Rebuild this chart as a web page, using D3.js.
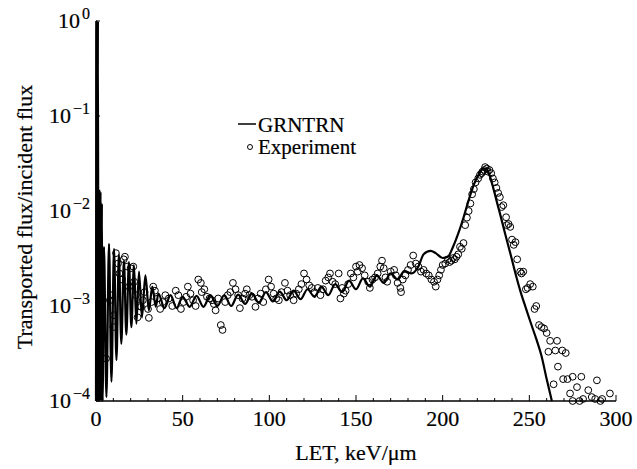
<!DOCTYPE html>
<html><head><meta charset="utf-8">
<script src="https://cdn.jsdelivr.net/npm/d3@7/dist/d3.min.js"></script>
<style>
html,body{margin:0;padding:0;background:#fff;}
svg{display:block;}
text{font-family:"Liberation Serif","Times New Roman",serif;fill:#000;stroke:#000;stroke-width:0.2;}
</style></head>
<body>
<script>
// ---- data ----
const xTicks = [0, 50, 100, 150, 200, 250, 300];
const yTicks = [1e0, 1e-1, 1e-2, 1e-3, 1e-4];
const yTickExp = ["0", "\u22121", "\u22122", "\u22123", "\u22124"];
const seriesNames = ["GRNTRN", "Experiment"];

// GRNTRN calculation: LET (keV/um) and flux ratio
const grnLET = [0, 0.4, 0.8, 1.1, 1.4, 1.8, 2.2, 2.6, 3.0, 3.4, 3.8, 4.6, 6.0, 7.5, 8.9, 10.4, 11.8, 13.2, 14.6, 16.1, 17.5, 19.0, 20.4, 21.9, 23.3, 24.8, 26.5, 28.5, 30.5, 32.5, 34.5,
  36, 39.5, 43, 46.5, 50, 54, 58, 62, 66, 70, 74, 78, 82, 86, 90, 94, 98, 102, 106, 110, 114, 118, 122, 126, 130, 134, 138, 142, 146, 150, 154, 158, 162, 166, 170, 174, 178, 182, 186, 189, 193, 196, 200, 203, 206, 209, 212, 215, 218, 221, 223.5, 225.5, 227, 229, 231, 233, 236, 239, 242, 245, 248, 251, 254, 257, 260, 263];
const grnFlux = [1e-4, 1.0, 1e-4, 1.0, 1e-4, 1.7e-2, 1e-4, 1.6e-2, 1e-4, 1.2e-2, 1e-4, 4.2e-3, 1.1e-4, 4.5e-3, 1.6e-4, 4.0e-3, 2.7e-4, 3.5e-3, 4.0e-4, 3.0e-3, 5.0e-4, 2.9e-3, 6.0e-4, 2.7e-3, 6.5e-4, 2.3e-3, 7.6e-4, 2.1e-3, 9.0e-4, 1.6e-3, 9.8e-4,
  1.35e-3, 0.95e-3, 1.3e-3, 0.95e-3, 1.25e-3, 0.98e-3, 1.28e-3, 0.98e-3, 1.3e-3, 1.0e-3, 1.3e-3, 1.0e-3, 1.32e-3, 1.05e-3, 1.35e-3, 1.08e-3, 1.4e-3, 1.12e-3, 1.42e-3, 1.15e-3, 1.45e-3, 1.18e-3, 1.5e-3, 1.25e-3, 1.6e-3, 1.3e-3, 1.7e-3, 1.4e-3, 1.85e-3, 1.5e-3, 1.95e-3, 1.6e-3, 2.1e-3, 1.75e-3, 2.2e-3, 1.9e-3, 2.35e-3, 2.2e-3, 2.6e-3, 3.5e-3, 3.8e-3, 3.6e-3, 3.2e-3, 3.3e-3, 4.2e-3, 5.8e-3, 8.5e-3, 1.3e-2, 1.9e-2, 2.45e-2, 2.8e-2, 2.75e-2, 2.4e-2, 1.8e-2, 1.3e-2, 9.5e-3, 5.8e-3, 3.6e-3, 2.2e-3, 1.4e-3, 9.5e-4, 6.5e-4, 4.5e-4, 3.0e-4, 1.7e-4, 1.0e-4];

// Experiment: LET (keV/um) and flux ratio
const expLET = [5.8, 8, 8.6, 10, 10.4, 11.5, 12.7, 13.5, 15, 16, 16.7, 18, 19, 20, 21.5, 22, 23, 24, 25, 26, 27, 28, 30, 30.5, 32, 33, 34, 35.5, 37, 38.5, 40, 42, 44, 46, 47.5, 49, 50.5, 52, 53, 54.5, 56, 57.5, 59, 60.5, 61, 62.5, 64, 65.5, 67, 68, 69, 70.5, 72, 73, 74.5, 76, 77.5, 79, 80.5, 82, 83, 84.5, 86, 87, 88.5, 90, 92, 93.5, 95, 96.5, 98, 99.6, 101, 102.5, 104, 105.5, 107, 109, 110.5, 112, 114, 115.5, 117, 118.5, 120, 121.5, 123, 124.5, 126, 128, 129.5, 131, 132.5, 134, 135, 136.5, 138, 140, 141, 142, 143, 144, 145.5, 147, 148.5, 150, 151, 152, 153.5, 155, 157, 158, 159.5, 161, 162.5, 164, 165, 166, 167, 168, 170, 172, 173, 174, 175.6, 176, 177, 178.5, 180, 181.5, 183, 184.5, 186, 187.5, 189, 190.5, 192, 193.5, 195, 196, 197, 198, 199, 200, 201.5, 203, 204, 205, 206, 207, 208, 209, 210, 211, 212, 213, 214, 215, 216, 217, 218, 219, 220.5, 221.5, 222.5, 223, 224, 224.5, 225.5, 226, 227, 228, 229, 230, 231, 232, 233, 234, 235, 236.6, 237, 238, 239, 240, 241, 242, 243, 244.7, 245.5, 246.5, 248, 249, 250.5, 252, 253, 254, 255.6, 257, 258.5, 260, 261, 262, 264, 265, 266, 266.5, 269, 269.5, 271, 272, 273.5, 275, 275, 277.5, 279, 280, 281, 284, 286, 288, 289, 291, 292, 296.5];
const expFlux = [2.8e-4, 1.15e-3, 1.3e-3, 6e-4, 8e-4, 3.6e-3, 2.8e-3, 2.2e-3, 1.9e-3, 3.1e-3, 3.3e-3, 2.6e-3, 1.6e-3, 2.5e-3, 2.6e-3, 1.8e-3, 1.3e-3, 7.6e-4, 1.0e-3, 9.8e-4, 1.15e-3, 1.4e-3, 9.3e-4, 7.5e-4, 1.1e-3, 1.6e-3, 1.45e-3, 1.2e-3, 9.3e-4, 1.1e-3, 1.3e-3, 1.2e-3, 1.0e-3, 1.45e-3, 1.3e-3, 9.3e-4, 1.1e-3, 1.25e-3, 1.6e-3, 1.35e-3, 1.15e-3, 1.0e-3, 1.9e-3, 1.75e-3, 1.4e-3, 1.5e-3, 1.25e-3, 1.2e-3, 1.15e-3, 1.05e-3, 9e-4, 1.2e-3, 6.3e-4, 5.6e-4, 1.1e-3, 1.3e-3, 1.4e-3, 1.75e-3, 1.5e-3, 1.3e-3, 9.5e-4, 1.2e-3, 1.35e-3, 1.5e-3, 1.3e-3, 1.25e-3, 9.8e-4, 1.2e-3, 1.35e-3, 1.1e-3, 1.5e-3, 1.9e-3, 1.6e-3, 1.35e-3, 1.2e-3, 1.15e-3, 1.4e-3, 1.75e-3, 1.45e-3, 1.3e-3, 1.15e-3, 1.35e-3, 1.5e-3, 1.7e-3, 2.2e-3, 1.9e-3, 1.65e-3, 1.55e-3, 1.4e-3, 1.55e-3, 1.3e-3, 1.5e-3, 1.85e-3, 2.0e-3, 2.2e-3, 1.8e-3, 1.7e-3, 2.2e-3, 1.2e-3, 1.55e-3, 1.35e-3, 1.45e-3, 1.7e-3, 2.2e-3, 2.0e-3, 2.6e-3, 2.3e-3, 2.7e-3, 2.5e-3, 2.1e-3, 1.8e-3, 1.55e-3, 1.9e-3, 2.0e-3, 2.2e-3, 2.6e-3, 3.0e-3, 2.5e-3, 2.0e-3, 1.8e-3, 2.3e-3, 2.4e-3, 2.1e-3, 1.75e-3, 1.55e-3, 1.4e-3, 1.9e-3, 2.1e-3, 2.4e-3, 2.7e-3, 3.4e-3, 2.8e-3, 2.6e-3, 2.3e-3, 2.4e-3, 2.2e-3, 2.1e-3, 1.9e-3, 1.8e-3, 1.6e-3, 1.9e-3, 2.1e-3, 2.4e-3, 2.7e-3, 2.8e-3, 3.1e-3, 2.9e-3, 3.0e-3, 3.2e-3, 3.1e-3, 3.3e-3, 3.5e-3, 4.2e-3, 4.0e-3, 4.6e-3, 7.1e-3, 8.5e-3, 1.0e-2, 1.2e-2, 1.5e-2, 1.7e-2, 2.0e-2, 2.2e-2, 2.4e-2, 2.5e-2, 2.6e-2, 2.7e-2, 2.9e-2, 2.8e-2, 2.6e-2, 2.7e-2, 2.5e-2, 2.2e-2, 2.0e-2, 1.75e-2, 1.55e-2, 1.4e-2, 1.1e-2, 1.15e-2, 8.6e-3, 7.1e-3, 7.3e-3, 6.8e-3, 5.0e-3, 4.4e-3, 4.7e-3, 3.1e-3, 2.3e-3, 2.2e-3, 2.3e-3, 1.5e-3, 1.55e-3, 1.7e-3, 1.6e-3, 9.3e-4, 1.0e-3, 6.3e-4, 6.0e-4, 5.8e-4, 5.2e-4, 3.3e-4, 4.3e-4, 1.5e-4, 3.4e-4, 4.3e-4, 2.3e-4, 3.4e-4, 1.7e-4, 3.2e-4, 1.7e-4, 1.2e-4, 1.8e-4, 1.0e-4, 1.4e-4, 1.0e-4, 1.8e-4, 1.05e-4, 1.3e-4, 1.1e-4, 1.05e-4, 1.65e-4, 1.0e-4, 1.05e-4, 1.2e-4];

// ---- layout ----
const W = 637, H = 469;
const m = {left: 96, right: 21, top: 21, bottom: 68};
const svg = d3.select("body").append("svg").attr("width", W).attr("height", H);

const x = d3.scaleLinear().domain([0, 300]).range([m.left, W - m.right]);
const y = d3.scaleLog().domain([1e-4, 1]).range([H - m.bottom, m.top]).clamp(true);

// axes lines
const axisG = svg.append("g");
axisG.append("line").attr("x1", x(0)).attr("x2", x(300)).attr("y1", y(1e-4)).attr("y2", y(1e-4))
  .attr("stroke", "#000").attr("stroke-width", 1.5);
axisG.append("line").attr("x1", x(0)).attr("x2", x(0)).attr("y1", y(1e-4)).attr("y2", y(1))
  .attr("stroke", "#000").attr("stroke-width", 1.5);

// x minor/major ticks (inward)
const xMinor = d3.range(0, 301, 10);
axisG.selectAll(".xt").data(xMinor).enter().append("line")
  .attr("x1", d => x(d)).attr("x2", d => x(d))
  .attr("y1", y(1e-4)).attr("y2", d => y(1e-4) - (d % 50 === 0 ? 6 : 3))
  .attr("stroke", "#000").attr("stroke-width", 1);
axisG.selectAll(".xl").data(xTicks).enter().append("text")
  .attr("x", d => x(d)).attr("y", y(1e-4) + 25)
  .attr("text-anchor", "middle").attr("font-size", 22).text(d => d);

// y ticks
axisG.selectAll(".yt").data(yTicks).enter().append("line")
  .attr("x1", x(0)).attr("x2", x(0) + 4)
  .attr("y1", d => y(d)).attr("y2", d => y(d))
  .attr("stroke", "#000").attr("stroke-width", 1);
const yl = axisG.selectAll(".yl").data(yTicks).enter().append("text")
  .attr("x", x(0) - 6).attr("y", d => y(d) + 7)
  .attr("text-anchor", "end").attr("font-size", 22);
yl.append("tspan").text("10");
yl.append("tspan").attr("dy", -9).attr("dx", 2).attr("font-size", 16).text((d, i) => yTickExp[i]);

// axis titles
svg.append("text").attr("x", (x(0) + x(300)) / 2).attr("y", 460)
  .attr("text-anchor", "middle").attr("font-size", 22).text("LET, keV/\u03bcm");
svg.append("text").attr("transform", `translate(32,${(y(1) + y(1e-4)) / 2 + 6}) rotate(-90)`)
  .attr("text-anchor", "middle").attr("font-size", 22).text("Transported flux/incident flux");

// GRNTRN line
const lineData = grnLET.map((v, i) => [v, grnFlux[i]]);
const line = d3.line().x(d => x(d[0])).y(d => y(d[1])).curve(d3.curveMonotoneX);
svg.append("path").datum(lineData).attr("d", line)
  .attr("fill", "none").attr("stroke", "#000").attr("stroke-width", 2.2).attr("stroke-linejoin", "round");

// Experiment circles
const expData = expLET.map((v, i) => [v, expFlux[i]]);
svg.append("g").selectAll("circle").data(expData).enter().append("circle")
  .attr("cx", d => x(d[0])).attr("cy", d => y(d[1])).attr("r", 3.4)
  .attr("fill", "none").attr("stroke", "#000").attr("stroke-width", 1);

// legend
const lg = svg.append("g");
lg.append("line").attr("x1", 238).attr("x2", 256).attr("y1", 124).attr("y2", 124)
  .attr("stroke", "#000").attr("stroke-width", 1.5);
lg.append("text").attr("x", 258).attr("y", 132).attr("font-size", 21).text(seriesNames[0]);
lg.append("circle").attr("cx", 250).attr("cy", 147).attr("r", 2.5)
  .attr("fill", "none").attr("stroke", "#000").attr("stroke-width", 1);
lg.append("text").attr("x", 258).attr("y", 154).attr("font-size", 21).text(seriesNames[1]);
</script>
</body></html>
